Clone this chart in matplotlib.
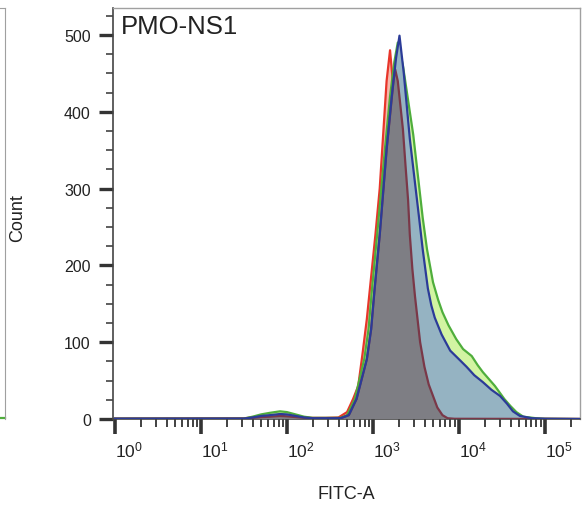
import numpy as np
import matplotlib
matplotlib.use("Agg")
import matplotlib.pyplot as plt
from matplotlib.ticker import FixedLocator, NullFormatter

plt.rcParams['font.family'] = ['Liberation Sans', 'DejaVu Sans']
plt.rcParams['mathtext.fontset'] = 'custom'
plt.rcParams['mathtext.rm'] = 'Liberation Sans'
plt.rcParams['mathtext.it'] = 'Liberation Sans'

# ---- data (x in log10 FITC units, y = count) ----
red_x = [0.0, 1.5, 1.65, 1.8, 1.92, 2.05, 2.2, 2.3, 2.45, 2.6, 2.70, 2.77, 2.83, 2.88, 2.93, 2.98,
         3.03, 3.08, 3.12, 3.16, 3.20, 3.24, 3.30, 3.40, 3.50, 3.60, 3.70, 3.80, 4.00, 4.20, 4.40, 5.41]
red_y = [0.5, 0.8, 3, 6, 7, 5, 2, 1.5, 1.5, 2, 9, 26, 43, 85, 130, 185,
         240, 300, 370, 440, 480, 430, 340, 240, 160, 100, 60, 30, 10, 3, 0.5, 0]

green_x = [0.0, 1.5, 1.6, 1.7, 1.8, 1.92, 2.0, 2.1, 2.2, 2.3, 2.45, 2.55, 2.62, 2.70, 2.79, 2.90, 2.95,
           2.99, 3.05, 3.14, 3.20, 3.25, 3.29, 3.35, 3.47, 3.58, 3.63, 3.70, 3.76, 3.81, 3.88, 3.97,
           4.05, 4.15, 4.22, 4.28, 4.35, 4.42, 4.53, 4.60, 4.67, 4.75, 4.90, 5.00, 5.41]
green_y = [0.5, 0.6, 3, 6, 8, 10, 9, 6, 3, 1.5, 1.5, 1.5, 1.5, 5, 26, 78, 117,
           169, 240, 351, 420, 465, 490, 460, 370, 262, 221, 178, 155, 139, 122, 104,
           91, 82, 70, 61, 52, 43, 26, 17, 9, 3, 1, 0.3, 0]

blue_x = [0.0, 1.5, 1.6, 1.7, 1.8, 1.92, 2.0, 2.1, 2.2, 2.3, 2.45, 2.55, 2.63, 2.72, 2.81, 2.93, 2.98,
          3.02, 3.08, 3.16, 3.22, 3.27, 3.31, 3.36, 3.43, 3.54, 3.58, 3.64, 3.68, 3.72, 3.80, 3.90,
          4.00, 4.09, 4.18, 4.28, 4.38, 4.48, 4.56, 4.63, 4.71, 4.85, 5.00, 5.41]
blue_y = [0.4, 0.5, 2, 4, 5, 6.5, 6, 4, 2, 1, 1, 1, 1.2, 5, 26, 78, 117,
          169, 240, 351, 420, 470, 499, 450, 365, 260, 221, 170, 148, 132, 110, 89,
          78, 68, 57, 48, 38, 30, 20, 10, 4, 1, 0.3, 0]

gray_x = [0.0, 1.5, 1.6, 1.7, 1.8, 1.92, 2.0, 2.1, 2.2, 2.3, 2.45, 2.55, 2.63, 2.72, 2.81, 2.93, 2.98,
          3.02, 3.08, 3.16, 3.20, 3.24, 3.26, 3.29, 3.35, 3.38, 3.41, 3.43, 3.46, 3.49, 3.52, 3.55,
          3.60, 3.65, 3.70, 3.75, 3.81, 3.87, 3.95, 5.41]
gray_y = [0.3, 0.4, 1.5, 2.5, 3, 4, 3.5, 2.5, 1.5, 1, 1, 1, 1.2, 5, 26, 78, 117,
          169, 240, 351, 395, 440, 455, 440, 377, 330, 285, 240, 195, 160, 130, 100,
          68, 45, 30, 15, 5, 1, 0.3, 0]

x_ticks = [0, 1, 2, 3, 4, 5]
y_ticks = [0, 100, 200, 300, 400, 500]
title = "PMO-NS1"

# ---- figure ----
W, H = 582, 510
fig = plt.figure(figsize=(W / 100, H / 100), dpi=100)
L, R, T, B = 113, 580, 9, 420
ax = fig.add_axes([L / W, (H - B) / H, (R - L) / W, (B - T) / H])

def series(xs, ys, edge, face, z, line=True):
    xv = np.power(10.0, xs)
    ax.fill_between(xv, 0, ys, facecolor=face, edgecolor='none', zorder=z)
    if line:
        ax.plot(xv, ys, color=edge, lw=1.6, zorder=z + 0.5, solid_joinstyle='round')

series(red_x, red_y, '#e8352a', '#f4b8ac', 1)
series(green_x, green_y, '#4fae3c', '#d2f4a2', 2)
series(blue_x, blue_y, '#2b3b98', '#95b3c2', 3, line=False)
series(gray_x, gray_y, '#7a3848', '#7e7e84', 4)
ax.plot(np.power(10.0, blue_x), blue_y, color='#2b3b98', lw=1.6, zorder=5)

ax.set_xscale('log')
ax.set_xlim(10 ** -0.023, 10 ** 5.41)
ax.set_ylim(0, 535)

ax.xaxis.set_major_locator(FixedLocator([10.0 ** e for e in x_ticks]))
minors = [m * 10.0 ** e for e in range(0, 6) for m in range(2, 10)]
ax.xaxis.set_minor_locator(FixedLocator(minors))
ax.xaxis.set_minor_formatter(NullFormatter())
ax.set_xticklabels([r'$10^{%d}$' % e for e in x_ticks])
for lab in ax.get_xticklabels():
    lab.set_horizontalalignment('left')

ax.yaxis.set_major_locator(FixedLocator(y_ticks))
ax.yaxis.set_minor_locator(FixedLocator(list(range(25, 535, 25))))

ax.tick_params(axis='x', which='major', direction='out', length=11, width=2.6,
               color='#333333', labelsize=12.5, pad=4, labelcolor='#222222')
ax.tick_params(axis='x', which='minor', direction='out', length=6, width=1.3, color='#333333')
ax.tick_params(axis='y', which='major', direction='out', length=10, width=2.4,
               color='#333333', labelsize=11.5, pad=6, labelcolor='#222222')
ax.tick_params(axis='y', which='minor', direction='out', length=5, width=1.1, color='#333333')
ax.tick_params(top=False, right=False)

for s in ['left', 'bottom']:
    ax.spines[s].set_color('#444444')
    ax.spines[s].set_linewidth(1.2)
for s in ['top', 'right']:
    ax.spines[s].set_color('#a0a0a0')
    ax.spines[s].set_linewidth(1.0)

ax.text(0.016, 0.986, title, transform=ax.transAxes, ha='left', va='top',
        fontsize=18.5, color='#222222')
fig.text(18 / W, 1 - 218 / H, 'Count', rotation=90, ha='center', va='center',
         fontsize=13, color='#222222')
fig.text(346 / W, 1 - 495 / H, 'FITC-A', ha='center', va='center',
         fontsize=13, color='#222222')

# sliver of neighbouring panel on the far left
ax0 = fig.add_axes([-40 / W, (H - B) / H, 45 / W, (B - T) / H])
ax0.set_xlim(0, 1)
ax0.set_ylim(0, 535)
ax0.plot([0, 1], [0.8, 0.8], color='#4fae3c', lw=1.6, clip_on=False)
ax0.set_xticks([])
ax0.set_yticks([])
for s in ['left', 'bottom']:
    ax0.spines[s].set_visible(False)
for s in ['top', 'right']:
    ax0.spines[s].set_color('#a0a0a0')

fig.savefig('out.png', dpi=100)
